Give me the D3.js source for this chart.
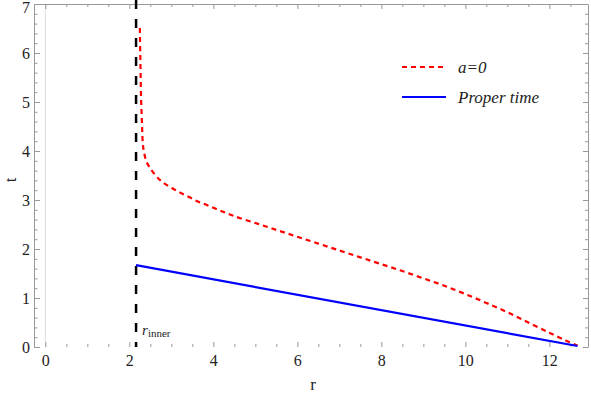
<!DOCTYPE html>
<html>
<head>
<meta charset="utf-8">
<script src="https://cdn.jsdelivr.net/npm/d3@7"></script>
<style>
  body { margin: 0; background: #fff; }
</style>
</head>
<body>
<div id="chart"></div>
<script>
// Red dashed curve (a=0): r and t
const rA0 = [2.25, 2.26, 2.27, 2.28, 2.30, 2.32, 2.35, 2.41, 2.51, 2.65, 2.81, 3.02, 3.21, 3.42, 3.63, 3.84, 4.06, 4.26, 4.5,
             5.0, 5.5, 6.0, 6.5, 7.0, 7.5, 8.0, 8.5, 9.0, 9.5, 10.0, 10.5, 11.0, 11.5, 12.0, 12.4, 12.67];
const tA0 = [6.51, 6.0, 5.5, 5.04, 4.6, 4.16, 3.97, 3.78, 3.63, 3.48, 3.35, 3.24, 3.15, 3.06, 2.97, 2.90, 2.82, 2.75, 2.67,
             2.53, 2.39, 2.25, 2.11, 1.97, 1.83, 1.69, 1.55, 1.40, 1.25, 1.08, 0.90, 0.71, 0.50, 0.29, 0.13, 0.03];
// Blue line (proper time)
const rProper = [2.16, 12.67];
const tProper = [1.67, 0.02];
// vertical marker
const rInner = 2.16;
// ticks
const xMajor = [0, 2, 4, 6, 8, 10, 12];
const yMajor = [0, 1, 2, 3, 4, 5, 6, 7];
const legendNames = ["a=0", "Proper time"];

const serifFont = '"Liberation Serif", serif';
const width = 591, height = 396;
const plotLeft = 34, plotRight = 588, plotTop = 4, plotBottom = 347;

const svg = d3.select("#chart").append("svg")
  .attr("width", width).attr("height", height)
  .style("font-family", serifFont);

const x = d3.scaleLinear().domain([-0.27, 12.92]).range([plotLeft, plotRight]);
const y = d3.scaleLinear().domain([0, 7]).range([plotBottom, plotTop]);

const xMinor = d3.range(0, 13.0, 0.5).filter(v => !xMajor.includes(v));
const yMinor = d3.range(0, 7.01, 0.2).map(v => +v.toFixed(1)).filter(v => !yMajor.includes(v));

const axisColor = "#999";

// light grid line at r = 0
svg.append("line")
  .attr("x1", x(0)).attr("x2", x(0)).attr("y1", plotTop).attr("y2", plotBottom)
  .attr("stroke", "#ddd").attr("stroke-width", 1);

// axes
function styleAxis(g, keepDomain) {
  g.attr("font-family", null);
  g.selectAll(".tick line").attr("stroke", axisColor);
  g.selectAll("text").attr("fill", "#222").style("font-size", "16px").style("font-family", serifFont);
  g.select(".domain").attr("stroke", keepDomain ? axisColor : "none");
}

// bottom: major with labels, minor
svg.append("g").attr("transform", `translate(0,${plotBottom})`)
  .call(d3.axisBottom(x).tickValues(xMajor).tickSize(-5).tickPadding(8).tickSizeOuter(0))
  .call(g => styleAxis(g, false));
svg.append("g").attr("transform", `translate(0,${plotBottom})`)
  .call(d3.axisBottom(x).tickValues(xMinor).tickSize(-3).tickFormat("").tickSizeOuter(0))
  .call(g => styleAxis(g, false));
// top
svg.append("g").attr("transform", `translate(0,${plotTop})`)
  .call(d3.axisTop(x).tickValues(xMajor).tickSize(-5).tickFormat("").tickSizeOuter(0))
  .call(g => styleAxis(g, true));
svg.append("g").attr("transform", `translate(0,${plotTop})`)
  .call(d3.axisTop(x).tickValues(xMinor).tickSize(-3).tickFormat("").tickSizeOuter(0))
  .call(g => styleAxis(g, false));
// left
svg.append("g").attr("transform", `translate(${plotLeft},0)`)
  .call(d3.axisLeft(y).tickValues(yMajor).tickSize(-6).tickPadding(4).tickFormat(d3.format("d")).tickSizeOuter(0))
  .call(g => styleAxis(g, true))
  .call(g => g.selectAll("text").filter(d => d === 7).attr("dy", "0.55em"));
svg.append("g").attr("transform", `translate(${plotLeft},0)`)
  .call(d3.axisLeft(y).tickValues(yMinor).tickSize(-3.5).tickFormat("").tickSizeOuter(0))
  .call(g => styleAxis(g, false));
// right
svg.append("g").attr("transform", `translate(${plotRight},0)`)
  .call(d3.axisRight(y).tickValues(yMajor).tickSize(-5).tickFormat("").tickSizeOuter(0))
  .call(g => styleAxis(g, true));
svg.append("g").attr("transform", `translate(${plotRight},0)`)
  .call(d3.axisRight(y).tickValues(yMinor).tickSize(-3).tickFormat("").tickSizeOuter(0))
  .call(g => styleAxis(g, false));

// axis labels
svg.append("text").attr("x", 313).attr("y", 390).attr("text-anchor", "middle")
  .style("font-size", "17px").style("font-family", serifFont).attr("fill", "#222").text("r");
svg.append("text").attr("transform", "translate(16,180) rotate(-90)").attr("text-anchor", "middle")
  .style("font-size", "17px").style("font-family", serifFont).attr("fill", "#222").text("t");

// vertical dashed line at r_inner
svg.append("line")
  .attr("x1", x(rInner)).attr("x2", x(rInner)).attr("y1", 0).attr("y2", plotBottom)
  .attr("stroke", "#000").attr("stroke-width", 2.5).attr("stroke-dasharray", "9,10");

const inner = svg.append("text").attr("x", x(rInner) + 6).attr("y", 335).attr("fill", "#222")
  .style("font-family", serifFont);
inner.append("tspan").style("font-style", "italic").style("font-size", "15px").text("r");
inner.append("tspan").attr("dy", 2).style("font-size", "11px").text("inner");

// red dashed
svg.append("path")
  .datum(rA0.map((r, i) => [r, tA0[i]]))
  .attr("d", d3.line().x(d => x(d[0])).y(d => y(d[1])).curve(d3.curveCatmullRom))
  .attr("fill", "none").attr("stroke", "#f00").attr("stroke-width", 2.2)
  .attr("stroke-dasharray", "5,4");

// blue solid
svg.append("path")
  .datum(rProper.map((r, i) => [r, tProper[i]]))
  .attr("d", d3.line().x(d => x(d[0])).y(d => y(d[1])))
  .attr("fill", "none").attr("stroke", "#00f").attr("stroke-width", 2.2);

// legend
const legend = svg.append("g");
const legendStyles = [{ c: "#f00", dash: "5,4" }, { c: "#00f", dash: null }];
legendNames.forEach((name, i) => {
  const ly = 67 + i * 30;
  legend.append("line").attr("x1", 402).attr("x2", 446).attr("y1", ly).attr("y2", ly)
    .attr("stroke", legendStyles[i].c).attr("stroke-width", 2.2)
    .attr("stroke-dasharray", legendStyles[i].dash);
  legend.append("text").attr("x", 458).attr("y", ly + 6)
    .style("font-size", "17px").style("font-style", "italic").style("font-family", serifFont)
    .attr("fill", "#222").text(name);
});
</script>
</body>
</html>
